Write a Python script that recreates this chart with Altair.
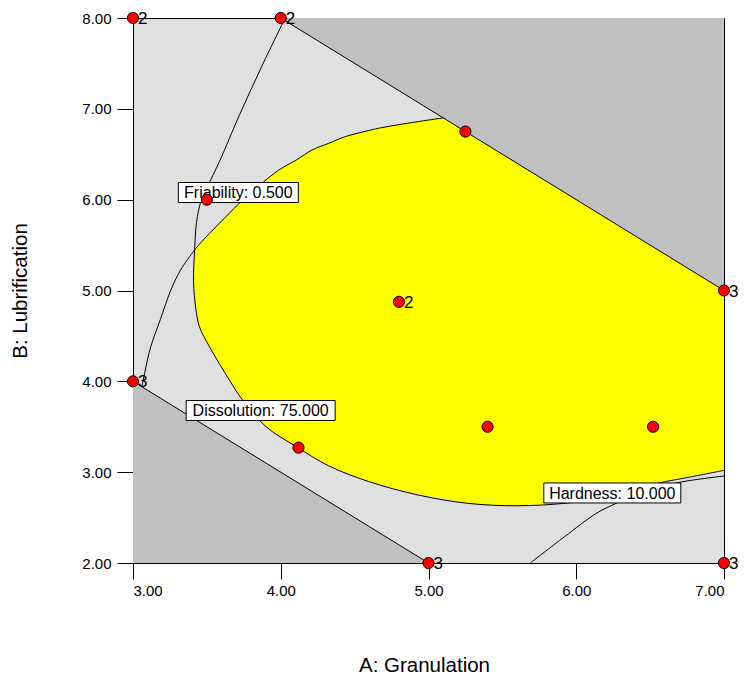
import altair as alt
import pandas as pd

# ---------------- data ----------------
# design points (A: Granulation, B: Lubrification) and replicate counts
pt_x = [3.0, 4.0, 5.25, 7.0, 3.5, 4.8, 3.0, 4.12, 5.4, 6.52, 5.0, 7.0]
pt_y = [8.0, 8.0, 6.75, 5.0, 6.0, 4.875, 4.0, 3.27, 3.5, 3.5, 2.0, 2.0]
pt_lab = ["2", "2", "", "3", "", "2", "3", "", "", "", "3", "3"]

# corners cut off the design space (dark grey)
upper_cut_x = [4.0, 7.0]
upper_cut_y = [8.0, 5.0]
upper_cut_y2 = [8.0, 8.0]
lower_cut_x = [3.0, 5.0]
lower_cut_y = [4.0, 2.0]
lower_cut_y2 = [2.0, 2.0]

# sweet spot (yellow) : top and bottom boundary read at the same A values
sweet_x = [3.410, 3.417, 3.45, 3.518, 3.585, 3.652, 3.719, 3.85, 3.988, 4.109, 4.212,
           4.324, 4.437, 4.593, 4.661, 4.884, 5.10, 5.266, 5.60, 5.94, 6.27, 6.56, 6.75, 7.0]
sweet_top = [5.10, 5.446, 5.51, 5.63, 5.74, 5.85, 5.96, 6.15, 6.327, 6.44, 6.547,
             6.62, 6.694, 6.76, 6.786, 6.848, 6.90, 6.734, 6.40, 6.06, 5.73, 5.44, 5.25, 5.0]
sweet_bot = [5.10, 4.96, 4.60, 4.38, 4.19, 4.015, 3.85, 3.59, 3.40, 3.277, 3.17,
             3.07, 3.0, 2.898, 2.87, 2.77, 2.71, 2.657, 2.63, 2.66, 2.74, 2.88, 2.94, 3.02]

# contour lines
curveA_x = [4.03, 3.875, 3.72, 3.585, 3.50, 3.461, 3.43, 3.417, 3.410, 3.425, 3.45, 3.518,
            3.652, 3.739, 3.901, 4.109, 4.324, 4.593, 4.929, 5.266, 5.60, 5.94, 6.27, 6.56, 6.75, 7.0]
curveA_y = [8.0, 7.48, 6.93, 6.42, 6.13, 5.99, 5.75, 5.446, 5.10, 4.80, 4.60, 4.38,
            4.015, 3.80, 3.50, 3.277, 3.07, 2.898, 2.749, 2.657, 2.63, 2.66, 2.74, 2.88, 2.94, 3.02]
curveB_x = [5.10, 4.884, 4.661, 4.593, 4.437, 4.324, 4.212, 4.109, 3.988, 3.85, 3.719, 3.652,
            3.585, 3.518, 3.45, 3.417, 3.32, 3.255, 3.185, 3.12, 3.08, 3.06]
curveB_y = [6.90, 6.848, 6.786, 6.76, 6.694, 6.62, 6.547, 6.44, 6.327, 6.15, 5.96, 5.85,
            5.74, 5.63, 5.51, 5.446, 5.22, 5.0, 4.68, 4.38, 4.10, 3.94]
hard_x = [5.689, 5.918, 6.139, 6.274, 6.45, 6.711, 7.0]
hard_y = [2.0, 2.286, 2.55, 2.66, 2.79, 2.892, 2.958]

# constraint boundaries
edge1_x = [4.0, 7.0]
edge1_y = [8.0, 5.0]
edge2_x = [3.0, 5.0]
edge2_y = [4.0, 2.0]

# contour labels
lab_text = ["Friability: 0.500", "Dissolution: 75.000", "Hardness: 10.000"]
lab_x = [3.713, 3.864, 6.244]
lab_y = [6.079, 3.679, 2.771]

x_ticks = [3, 4, 5, 6, 7]
y_ticks = [2, 3, 4, 5, 6, 7, 8]

# ---------------- chart ----------------
FONT = "Liberation Sans"
xs = alt.Scale(domain=[3, 7], nice=False, zero=False)
ys = alt.Scale(domain=[2, 8], nice=False, zero=False)

x_axis = alt.Axis(values=x_ticks, format=".2f", title="A: Granulation", grid=False,
                  tickSize=16, labelPadding=4, titlePadding=57, labelFontSize=15,
                  titleFontSize=20.5, titleFontWeight="normal", labelFont=FONT, titleFont=FONT,
                  titleX=291, titleAlign="center",
                  domainColor="black", tickColor="black", labelColor="black", titleColor="black")
y_axis = alt.Axis(values=y_ticks, format=".2f", title="B: Lubrification", grid=False,
                  tickSize=16, labelPadding=6, titlePadding=51, labelFontSize=15,
                  titleFontSize=20.5, titleFontWeight="normal", labelFont=FONT, titleFont=FONT,
                  domainColor="black", tickColor="black", labelColor="black", titleColor="black")


def X():
    return alt.X("x:Q", scale=xs, axis=x_axis)


def Y():
    return alt.Y("y:Q", scale=ys, axis=y_axis)


def line_df(xv, yv):
    return pd.DataFrame({"x": xv, "y": yv, "i": list(range(len(xv)))})


upper_df = pd.DataFrame({"x": upper_cut_x, "y": upper_cut_y, "y2": upper_cut_y2})
lower_df = pd.DataFrame({"x": lower_cut_x, "y": lower_cut_y, "y2": lower_cut_y2})
sweet_df = pd.DataFrame({"x": sweet_x, "y": sweet_top, "y2": sweet_bot})
pts_df = pd.DataFrame({"x": pt_x, "y": pt_y, "lab": pt_lab})
lab_df = pd.DataFrame({"x": lab_x, "y": lab_y, "t": lab_text})

sweet = alt.Chart(sweet_df).mark_area(color="#FFFF00", opacity=1, interpolate="monotone").encode(
    x=X(), y=Y(), y2="y2:Q")
upper = alt.Chart(upper_df).mark_area(color="#C0C0C0", opacity=1).encode(
    x=X(), y=Y(), y2="y2:Q")
lower = alt.Chart(lower_df).mark_area(color="#C0C0C0", opacity=1).encode(
    x=X(), y=Y(), y2="y2:Q")

lines = []
for xv, yv, interp in [(curveA_x, curveA_y, "catmull-rom"), (curveB_x, curveB_y, "catmull-rom"),
                       (hard_x, hard_y, "catmull-rom"),
                       (edge1_x, edge1_y, "linear"), (edge2_x, edge2_y, "linear")]:
    lines.append(
        alt.Chart(line_df(xv, yv)).mark_line(color="black", strokeWidth=1, interpolate=interp).encode(
            x=X(), y=Y(), order="i:Q")
    )

box_w = {"Friability: 0.500": 120, "Dissolution: 75.000": 149, "Hardness: 10.000": 137}
boxes = []
for t in lab_text:
    w = box_w[t]
    boxes.append(
        alt.Chart(lab_df).transform_filter(alt.datum.t == t).mark_rect(
            fill="white", stroke="black", strokeWidth=1,
            xOffset=-w / 2, x2Offset=w / 2, yOffset=-10, y2Offset=10
        ).encode(x=X(), x2="x:Q", y=Y(), y2="y:Q")
    )

lab_txt = alt.Chart(lab_df).mark_text(
    font=FONT, fontSize=16, color="black", align="center", baseline="middle", dy=1
).encode(x=X(), y=Y(), text="t:N")

points = alt.Chart(pts_df).mark_point(
    shape="circle", size=125, filled=True, fill="#FF0000", stroke="black",
    strokeWidth=1, opacity=1
).encode(x=X(), y=Y())

pt_txt = alt.Chart(pts_df).mark_text(
    font=FONT, fontSize=17, color="black", align="left", baseline="middle", dx=5, dy=1
).encode(x=X(), y=Y(), text="lab:N")

chart = alt.layer(
    sweet, upper, lower, *lines, *boxes, lab_txt, points, pt_txt
).properties(
    width=591, height=545,
    autosize=alt.AutoSizeParams(type="none"),
    padding={"left": 125, "top": 10, "right": 15, "bottom": 116},
    background="white",
).configure_view(
    fill="#E0E0E0", stroke="black", strokeWidth=1
)

chart.save("out.html", embed_options={"renderer": "svg", "actions": False})
